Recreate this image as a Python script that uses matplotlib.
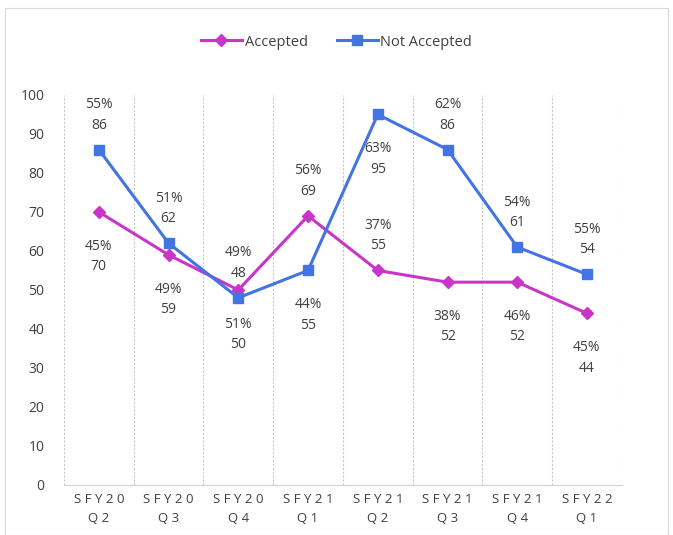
import matplotlib
matplotlib.use("Agg")
from matplotlib import pyplot as plt
from matplotlib.patches import Rectangle

quarters = ["SFY20\nQ2", "SFY20\nQ3", "SFY20\nQ4", "SFY21\nQ1",
            "SFY21\nQ2", "SFY21\nQ3", "SFY21\nQ4", "SFY22\nQ1"]
accepted = [70, 59, 50, 69, 55, 52, 52, 44]
not_accepted = [86, 62, 48, 55, 95, 86, 61, 54]
accepted_pct = ["45%", "49%", "51%", "56%", "37%", "38%", "46%", "45%"]
not_accepted_pct = ["55%", "51%", "49%", "44%", "63%", "62%", "54%", "55%"]
# label above (+1) or below (-1) the point
accepted_side = [-1, -1, -1, 1, 1, -1, -1, -1]
not_accepted_side = [1, 1, 1, -1, -1, 1, 1, 1]

c_acc = "#C935C9"
c_not = "#4374E3"
txt = "#404040"

plt.rcParams['font.family'] = ['Open Sans', 'DejaVu Sans']

fig = plt.figure(figsize=(6.73, 5.35), dpi=100)
ax = fig.add_axes([0.095, 0.0935, 0.829, 0.729])

x = list(range(len(quarters)))
ax.plot(x, accepted, color=c_acc, lw=2.2, marker="D", ms=6, label="Accepted")
ax.plot(x, not_accepted, color=c_not, lw=2.2, marker="s", ms=7, label="Not Accepted")

def put_labels(vals, pcts, sides):
    for i, (v, p, s) in enumerate(zip(vals, pcts, sides)):
        off = 25 if s > 0 else -32
        ax.annotate(p + "\n" + str(v), (i, v), xytext=(0, off),
                    textcoords="offset points", ha="center", va="center",
                    fontsize=10, color=txt, linespacing=1.5)

put_labels(accepted, accepted_pct, accepted_side)
put_labels(not_accepted, not_accepted_pct, not_accepted_side)

ax.set_xlim(-0.5, len(quarters) - 0.5)
ax.set_ylim(0, 100)
ax.set_yticks(range(0, 101, 10))
ax.tick_params(axis="y", length=0, labelsize=10, labelcolor=txt, pad=14)
ax.set_xticks(x)
ax.set_xticklabels([" ".join(q.split("\n")[0]) + "\n" + " ".join(q.split("\n")[1])
                    for q in quarters], linespacing=1.6)
ax.tick_params(axis="x", length=0, labelsize=9.5, labelcolor=txt, pad=6)

# vertical dotted gridlines at category boundaries
for b in range(len(quarters) + 1):
    ax.axvline(b - 0.5, color="#C8C8C8", lw=0.8, ls=(0, (2, 1.5)), zorder=0)

for s in ["top", "right", "left"]:
    ax.spines[s].set_visible(False)
ax.spines["bottom"].set_color("#D0D0D0")

fig.legend(loc="upper center", bbox_to_anchor=(0.5, 0.96), ncol=2, frameon=False,
           fontsize=10.5, labelcolor=txt, handlelength=2.8, columnspacing=2.0,
           handletextpad=0.2)

fig.patches.append(Rectangle((0.008, 0.0), 0.985, 0.985, transform=fig.transFigure,
                             fill=False, edgecolor="#D9D9D9", lw=0.8))

fig.savefig("out.png", dpi=100)
